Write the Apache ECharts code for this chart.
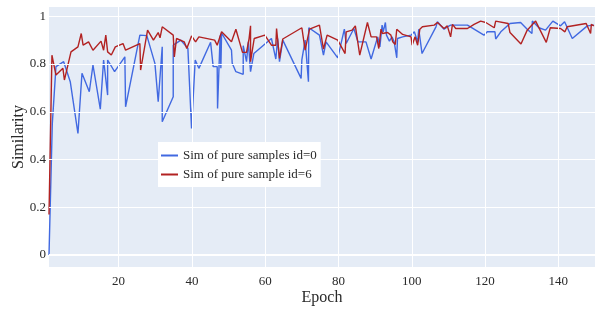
<!DOCTYPE html>
<html>
<head>
<meta charset="utf-8">
<script src="https://cdn.jsdelivr.net/npm/echarts@6/dist/echarts.min.js"></script>
<style>
  html, body { margin: 0; padding: 0; background: #fff; }
  #main { width: 595px; height: 312px; }
</style>
</head>
<body>
<div id="main"></div>
<script>
// values
var blueName = 'Sim of pure samples id=0';
var redName = 'Sim of pure sample id=6';

var blueEpoch = [1, 1.9, 2.9, 5.0, 6.8, 8.9, 10.0, 12.0, 13.0, 15.0, 15.9, 17.0, 17.0, 18.9, 21.7, 21.9,
  25.8, 27.7, 29.9, 30.8, 31.9, 31.9, 34.9, 34.9, 37.0, 38.9, 39.9, 40.9, 41.9, 45.1, 45.8, 46.9,
  47.0, 47.7, 47.9, 48.1, 50.8, 51.0, 52.0, 54.0, 54.0, 54.9, 55.4, 56.0, 56.9, 61.7, 62.9, 63.4,
  63.9, 64.8, 69.8, 70.0, 70.9, 71.8, 71.9, 74.8, 75.9, 76.6, 79.8, 81.6, 82.1, 84.2, 85.3, 87.5,
  88.9, 90.7, 91.3, 91.9, 92.2, 92.8, 93.1, 93.9, 94.6, 95.2, 95.9, 96.1, 97.5, 99.8, 100.7, 101.6,
  101.9, 102.8, 106.6, 107.0, 108.8, 109.7, 110.6, 115.2, 119.7, 120.6, 122.7, 122.9, 124.3, 126.8,
  129.7, 131.5, 132.8, 132.9, 134.7, 136.5, 138.5, 140.6, 141.7, 143.8, 147.9, 149.7];
var blueSim = [0.0, 0.55, 0.789, 0.81, 0.726, 0.509, 0.761, 0.684, 0.796, 0.611, 0.817, 0.67, 0.817, 0.768, 0.83, 0.621,
  0.921, 0.919, 0.803, 0.642, 0.872, 0.558, 0.663, 0.879, 0.9, 0.866, 0.53, 0.817, 0.782, 0.891, 0.789, 0.789,
  0.614, 0.92, 0.782, 0.93, 0.858, 0.803, 0.768, 0.757, 0.877, 0.81, 0.893, 0.768, 0.844, 0.907, 0.821, 0.907,
  0.81, 0.9, 0.74, 0.817, 0.9, 0.726, 0.952, 0.921, 0.837, 0.893, 0.826, 0.946, 0.886, 0.949, 0.893, 0.893,
  0.821, 0.914, 0.872, 0.963, 0.935, 0.974, 0.921, 0.896, 0.914, 0.893, 0.826, 0.907, 0.914, 0.921, 0.935, 0.893,
  0.946, 0.844, 0.956, 0.977, 0.946, 0.956, 0.963, 0.963, 0.921, 0.935, 0.935, 0.905, 0.935, 0.97,
  0.974, 0.946, 0.928, 0.98, 0.952, 0.942, 0.98, 0.96, 0.977, 0.907, 0.96, 0.963];

var redEpoch = [1, 1.8, 2.9, 4.8, 5.2, 7.0, 8.9, 9.8, 10.3, 11.8, 13.0, 15.2, 15.9, 16.5, 17.0, 18.0, 19.1,
  21.2, 21.9, 25.8, 26.0, 27.9, 29.5, 30.8, 31.3, 31.9, 34.9, 35.2, 35.8, 37.9, 38.6, 39.9, 41.0, 41.9,
  46.2, 46.9, 48.1, 50.8, 52.0, 53.8, 54.9, 55.6, 56.0, 56.0, 57.0, 59.9, 61.7, 62.9, 63.1, 63.9, 64.8,
  70.0, 70.9, 72.1, 74.8, 75.9, 76.9, 79.8, 81.8, 82.1, 83.7, 84.6, 85.8, 87.9, 88.9, 90.4, 91.0, 91.6,
  92.0, 93.4, 94.3, 94.8, 95.5, 95.9, 97.5, 99.8, 100.1, 100.9, 101.6, 102.2, 102.9, 106.1, 107.0, 108.8,
  109.7, 110.6, 111.1, 112.0, 115.2, 117.0, 118.8, 120.2, 122.5, 122.9, 126.3, 126.8, 129.8, 131.5, 133.8,
  136.7, 137.8, 140.6, 141.8, 142.4, 147.6, 148.8, 149.0, 149.7];
var redSim = [0.17, 0.837, 0.754, 0.782, 0.733, 0.851, 0.872, 0.928, 0.879, 0.893, 0.858, 0.896, 0.858, 0.921, 0.851, 0.838, 0.872,
  0.886, 0.858, 0.886, 0.775, 0.942, 0.9, 0.932, 0.91, 0.956, 0.921, 0.83, 0.907, 0.893, 0.865, 0.918, 0.893, 0.914,
  0.9, 0.879, 0.935, 0.893, 0.946, 0.849, 0.849, 0.907, 0.96, 0.81, 0.907, 0.921, 0.879, 0.879, 0.949, 0.824, 0.905,
  0.952, 0.858, 0.946, 0.963, 0.863, 0.921, 0.9, 0.844, 0.935, 0.942, 0.96, 0.837, 0.974, 0.914, 0.914, 0.865, 0.946,
  0.928, 0.932, 0.921, 0.893, 0.882, 0.946, 0.924, 0.914, 0.879, 0.914, 0.879, 0.946, 0.956, 0.963, 0.974, 0.949,
  0.96, 0.914, 0.966, 0.949, 0.949, 0.966, 0.98, 0.974, 0.952, 0.98, 0.97, 0.932, 0.884, 0.942, 0.98,
  0.891, 0.952, 0.949, 0.935, 0.956, 0.97, 0.928, 0.966, 0.96];

var xTicks = [20, 40, 60, 80, 100, 120, 140];
var yTicks = [0, 0.2, 0.4, 0.6, 0.8, 1];

function zip(xs, ys) {
  var out = [];
  for (var i = 0; i < xs.length; i++) out.push([xs[i], ys[i]]);
  return out;
}

var font = '"Liberation Serif", "DejaVu Serif", serif';
var txt = '#2a2a2a';

var myChart = echarts.init(document.getElementById('main'), null, { renderer: 'canvas' });

// plotly-like white grid lines, zero line a bit thicker
var gridLines = {
  silent: true,
  symbol: 'none',
  label: { show: false },
  animation: false,
  lineStyle: { color: '#ffffff', width: 1, type: 'solid' },
  data: xTicks.map(function (v) { return { xAxis: v }; })
    .concat(yTicks.map(function (v) {
      return { yAxis: v, lineStyle: { width: v === 0 ? 2 : 1, color: '#ffffff', type: 'solid' } };
    }))
};

var option = {
  animation: false,
  backgroundColor: '#ffffff',
  grid: {
    left: 49, right: 0, top: 7, height: 260,
    containLabel: false,
    outerBoundsMode: 'none',
    show: true, backgroundColor: '#E5ECF6', borderWidth: 0
  },
  legend: {
    left: 158, top: 142,
    z: 10,
    orient: 'vertical',
    backgroundColor: '#ffffff',
    padding: [6, 4, 5, 3],
    icon: 'rect',
    itemWidth: 17, itemHeight: 2, itemGap: 4,
    textStyle: { fontFamily: font, fontSize: 13, color: txt, lineHeight: 15 },
    data: [blueName, redName]
  },
  xAxis: {
    type: 'value',
    min: 1, max: 150,
    name: 'Epoch',
    nameLocation: 'middle',
    nameGap: 23,
    nameMoveOverlap: false,
    nameTextStyle: { fontFamily: font, fontSize: 16, color: txt },
    axisLine: { show: false },
    axisTick: { show: false, customValues: xTicks },
    axisLabel: { customValues: xTicks, fontFamily: font, fontSize: 13, color: txt, margin: 8 },
    splitLine: { show: false }
  },
  yAxis: {
    type: 'value',
    min: -0.0503, max: 1.039,
    name: 'Similarity',
    nameLocation: 'middle',
    nameGap: 22,
    nameMoveOverlap: false,
    nameTextStyle: { fontFamily: font, fontSize: 16, color: txt },
    axisLine: { show: false },
    axisTick: { show: false, customValues: yTicks },
    axisLabel: {
      customValues: yTicks, fontFamily: font, fontSize: 13, color: txt, margin: 3,
      formatter: function (v) { return String(v); }
    },
    splitLine: { show: false }
  },
  series: [
    {
      name: 'grid',
      type: 'line',
      data: [],
      markLine: gridLines,
      z: 1
    },
    {
      name: blueName,
      type: 'line',
      data: zip(blueEpoch, blueSim),
      showSymbol: false,
      symbol: 'none',
      lineStyle: { color: '#4169E1', width: 1.4 },
      itemStyle: { color: '#4169E1' },
      z: 2
    },
    {
      name: redName,
      type: 'line',
      data: zip(redEpoch, redSim),
      showSymbol: false,
      symbol: 'none',
      lineStyle: { color: '#B22222', width: 1.4 },
      itemStyle: { color: '#B22222' },
      z: 3
    }
  ]
};

myChart.setOption(option);
</script>
</body>
</html>
